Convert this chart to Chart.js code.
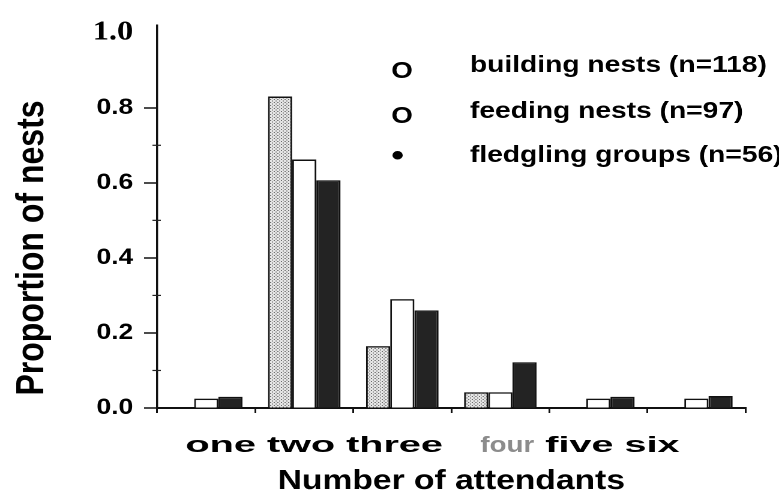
<!DOCTYPE html>
<html>
<head>
<meta charset="utf-8">
<script src="https://cdn.jsdelivr.net/npm/chart.js@4.4.1/dist/chart.umd.min.js"></script>
<style>
  html, body { margin: 0; padding: 0; background: #fff; overflow: hidden; }
  /* the figure is set in a slightly extended face, so the whole drawing is widened */
  #wrap { width: 649px; height: 493px; transform: scaleX(1.2003); transform-origin: 0 0; }
  canvas { display: block; }
</style>
</head>
<body>
<div id="wrap"><canvas id="c" width="649" height="493"></canvas></div>
<script>
// Number of attendants at each nest / fledgling group
const categories = ['one', 'two', 'three', 'four', 'five', 'six'];

// Proportion of nests with each number of attendants
const building  = [0,     0.83,  0.165, 0.042, 0,     0];
const feeding   = [0.025, 0.662, 0.29,  0.042, 0.025, 0.025];
const fledgling = [0.03,  0.607, 0.26,  0.122, 0.03,  0.032];

const seriesNames = ['building nests (n=118)', 'feeding nests (n=97)', 'fledgling groups (n=56)'];
const seriesMarks = ['O', 'O', '\u2022'];

const yTickLabels = ['0.0', '0.2', '0.4', '0.6', '0.8', '1.0'];

const SANS = '"Liberation Sans", Arial, Helvetica, sans-serif';
const SERIF = '"Liberation Serif", "Times New Roman", serif';
Chart.defaults.font.family = SANS;
Chart.defaults.color = '#000';

// fine dotted screen used for the building-nest bars
function stipple() {
  const c = document.createElement('canvas');
  c.width = 6; c.height = 6;
  const g = c.getContext('2d');
  g.fillStyle = '#e6e6e6';
  g.fillRect(0, 0, 6, 6);
  g.fillStyle = '#6e6e6e';
  g.fillRect(0, 0, 2, 2);
  g.fillRect(3, 3, 2, 2);
  const p = g.createPattern(c, 'repeat');
  p.setTransform(new DOMMatrix().scale(0.5));
  return p;
}

const isMajor = v => Math.round(v * 10) % 2 === 0 && v < 0.95;

// axis titles, category words, minor ticks and the key
const figureText = {
  id: 'figureText',
  afterDraw(chart) {
    const ctx = chart.ctx;
    const xs = chart.scales.x, ys = chart.scales.y;
    ctx.save();

    // minor ticks crossing the y axis
    ctx.strokeStyle = '#222';
    ctx.lineWidth = 1.2;
    ys.ticks.forEach(t => {
      if (isMajor(t.value) || t.value > 0.85) return;
      const y = ys.getPixelForValue(t.value);
      ctx.beginPath();
      ctx.moveTo(xs.left - 4, y);
      ctx.lineTo(xs.left + 3, y);
      ctx.stroke();
    });

    // category words set as one running line under the axis
    const faded = { four: { color: '#8c8c8c', sx: 1.05, lead: 22 } };
    let x = xs.left + 23.5;
    const base = xs.top + 44;
    ctx.textBaseline = 'alphabetic';
    ctx.textAlign = 'left';
    ctx.font = 'bold 22px ' + SANS;
    const space = ctx.measureText(' ').width * 1.5;
    categories.forEach(lab => {
      const st = faded[lab] || { color: '#000', sx: 1.5, lead: 0 };
      x += st.lead;
      const w = ctx.measureText(lab).width * st.sx;
      ctx.save();
      ctx.translate(x, base);
      ctx.scale(st.sx, 1);
      ctx.fillStyle = st.color;
      ctx.fillText(lab, 0, 0);
      ctx.restore();
      x += w + space;
    });

    // x axis title
    ctx.fillStyle = '#000';
    ctx.textAlign = 'center';
    ctx.font = 'bold 28px ' + SANS;
    ctx.fillText('Number of attendants', (xs.left + xs.right) / 2, 489);

    // y axis title
    ctx.save();
    ctx.translate(36, 248);
    ctx.rotate(-Math.PI / 2);
    ctx.font = 'bold 32px ' + SANS;
    ctx.fillText('Proportion of nests', 0, 0);
    ctx.restore();

    // key
    const textBase = [72, 118, 162];
    const markBase = [78, 123, 165];
    const markSize = [23, 23, 30];
    ctx.textAlign = 'left';
    seriesNames.forEach((name, i) => {
      ctx.font = 'bold ' + markSize[i] + 'px ' + SANS;
      ctx.fillText(seriesMarks[i], 326, markBase[i]);
      ctx.font = 'bold 23.5px ' + SANS;
      ctx.fillText(name, 391.5, textBase[i]);
    });

    ctx.restore();
  }
};

new Chart(document.getElementById('c'), {
  type: 'bar',
  data: {
    labels: categories,
    datasets: [
      { label: seriesNames[0], data: building,  backgroundColor: stipple(), borderColor: '#111', borderWidth: 1.5 },
      { label: seriesNames[1], data: feeding,   backgroundColor: '#ffffff', borderColor: '#111', borderWidth: 1.5 },
      { label: seriesNames[2], data: fledgling, backgroundColor: '#232323', borderColor: '#111', borderWidth: 1.5 }
    ]
  },
  options: {
    responsive: false,
    devicePixelRatio: 2,
    animation: false,
    layout: { padding: { top: 22, right: 28, left: 0, bottom: 0 } },
    datasets: { bar: { categoryPercentage: 0.74, barPercentage: 1 } },
    plugins: { legend: { display: false }, tooltip: { enabled: false } },
    scales: {
      x: {
        grid: { offset: true, drawOnChartArea: false, tickLength: 5, color: '#111', lineWidth: 1.5 },
        border: { color: '#111', width: 2 },
        ticks: { display: false },
        afterFit(s) { s.height = 85; }
      },
      y: {
        min: 0,
        max: 1.02,
        ticks: {
          stepSize: 0.1,
          includeBounds: false,
          autoSkip: false,
          padding: 9,
          color: '#000',
          callback(v) {
            const s = Number(v).toFixed(1);
            return yTickLabels.includes(s) ? s : '';
          },
          font(c) {
            return c.tick && c.tick.value > 0.95
              ? { family: SERIF, size: 27, weight: 'bold' }
              : { family: SANS, size: 22, weight: 'bold' };
          }
        },
        grid: {
          drawOnChartArea: false,
          tickLength: 11,
          tickWidth: 1.5,
          tickColor(c) { return c.tick && isMajor(c.tick.value) ? '#111' : 'rgba(0,0,0,0)'; }
        },
        border: { color: '#111', width: 1.7 },
        afterFit(s) { s.width = 131; }
      }
    }
  },
  plugins: [figureText]
});
</script>
</body>
</html>
